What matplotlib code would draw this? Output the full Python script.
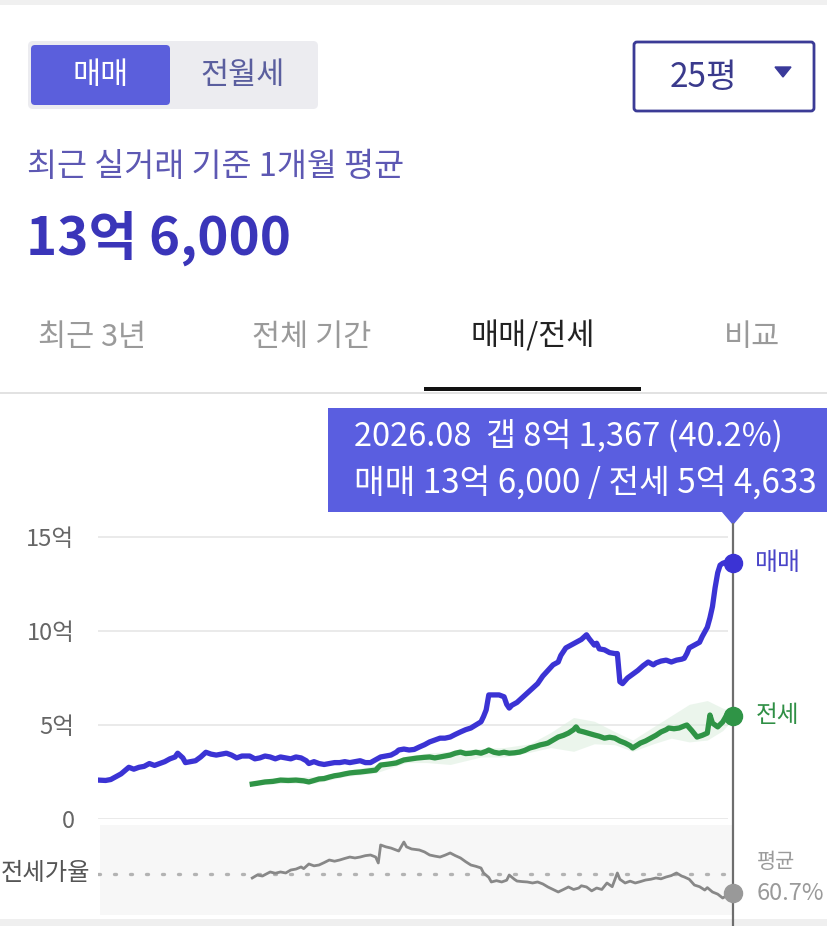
import matplotlib
matplotlib.use("Agg")
import matplotlib.pyplot as plt
from matplotlib.patches import FancyBboxPatch, Rectangle, Polygon
import pandas as pd

plt.rcParams['font.family'] = ['Noto Sans CJK KR', 'DejaVu Sans']

# 매매 price (억)
sale_dates = ['2006-01', '2006-04', '2006-06', '2006-08', '2006-10', '2007-01', '2007-03', '2007-05',
              '2007-07', '2007-09', '2007-11', '2008-01', '2008-03', '2008-05', '2008-07', '2008-08',
              '2008-10', '2008-11', '2009-01', '2009-03', '2009-05', '2009-07', '2009-09', '2009-11',
              '2010-01', '2010-03', '2010-05', '2010-07', '2010-09', '2010-12', '2011-02', '2011-04',
              '2011-06', '2011-08', '2011-10', '2011-12', '2012-02', '2012-04', '2012-06', '2012-08',
              '2012-10', '2012-11', '2013-01', '2013-03', '2013-05', '2013-07', '2013-09', '2013-11',
              '2014-01', '2014-03', '2014-05', '2014-07', '2014-09', '2014-11', '2015-01', '2015-03',
              '2015-05', '2015-07', '2015-09', '2015-10', '2015-12', '2016-02', '2016-04', '2016-06',
              '2016-08', '2016-10', '2016-12', '2017-02', '2017-04', '2017-06', '2017-08', '2017-10',
              '2017-12', '2018-02', '2018-04', '2018-06', '2018-07', '2018-08', '2018-09', '2018-11',
              '2019-01', '2019-03', '2019-04', '2019-05', '2019-06', '2019-08', '2019-10', '2019-12',
              '2020-02', '2020-04', '2020-06', '2020-08', '2020-10', '2020-12', '2021-01', '2021-03',
              '2021-05', '2021-07', '2021-09', '2021-11', '2021-12', '2022-02', '2022-03', '2022-04',
              '2022-06', '2022-08', '2022-10', '2022-11', '2022-12', '2023-01', '2023-03', '2023-05',
              '2023-07', '2023-09', '2023-11', '2024-01', '2024-02', '2024-04', '2024-06', '2024-08',
              '2024-10', '2024-12', '2025-01', '2025-02', '2025-03', '2025-05', '2025-07', '2025-08',
              '2025-10', '2025-11', '2025-12', '2026-01', '2026-02', '2026-03', '2026-04', '2026-06',
              '2026-08']
sale_vals = [2.07, 2.05, 2.10, 2.25, 2.40, 2.75, 2.65, 2.75,
             2.80, 2.95, 2.85, 2.95, 3.05, 3.20, 3.30, 3.50,
             3.25, 3.00, 3.05, 3.10, 3.30, 3.55, 3.45, 3.40,
             3.45, 3.50, 3.40, 3.25, 3.35, 3.35, 3.20, 3.25,
             3.35, 3.30, 3.20, 3.30, 3.25, 3.20, 3.30, 3.25,
             3.10, 2.95, 3.05, 2.95, 2.90, 2.95, 3.00, 3.00,
             3.05, 3.00, 3.05, 3.10, 3.00, 3.00, 3.15, 3.30,
             3.35, 3.40, 3.55, 3.67, 3.72, 3.67, 3.70, 3.83,
             3.95, 4.10, 4.20, 4.30, 4.30, 4.36, 4.50, 4.63,
             4.75, 4.84, 5.00, 5.17, 5.45, 5.80, 6.60, 6.60,
             6.60, 6.50, 6.10, 5.90, 6.05, 6.20, 6.45, 6.70,
             6.95, 7.20, 7.60, 7.90, 8.20, 8.35, 8.70, 9.10,
             9.25, 9.40, 9.55, 9.80, 9.60, 9.25, 9.35, 9.05,
             9.00, 8.85, 8.80, 8.80, 7.30, 7.20, 7.50, 7.70,
             7.90, 8.15, 8.35, 8.20, 8.30, 8.40, 8.45, 8.35,
             8.45, 8.50, 8.55, 8.80, 9.10, 9.25, 9.40, 9.70,
             10.20, 10.70, 11.30, 12.30, 13.10, 13.50, 13.60, 13.70,
             13.60]

# 전세 price (억)
rent_dates = ['2011-01', '2011-03', '2011-06', '2011-09', '2011-12', '2012-03', '2012-06', '2012-09',
              '2012-11', '2013-01', '2013-03', '2013-05', '2013-07', '2013-09', '2013-11', '2014-01',
              '2014-03', '2014-05', '2014-07', '2014-10', '2015-01', '2015-02', '2015-03', '2015-06',
              '2015-09', '2015-12', '2016-03', '2016-05', '2016-08', '2016-10', '2016-12', '2017-02',
              '2017-04', '2017-06', '2017-08', '2017-10', '2017-12', '2018-02', '2018-04', '2018-06',
              '2018-08', '2018-09', '2018-11', '2019-01', '2019-03', '2019-05', '2019-07', '2019-09',
              '2019-11', '2020-01', '2020-03', '2020-05', '2020-07', '2020-08', '2020-10', '2020-12',
              '2021-02', '2021-04', '2021-06', '2021-07', '2021-08', '2021-10', '2021-12', '2022-02',
              '2022-04', '2022-06', '2022-08', '2022-10', '2022-12', '2023-02', '2023-04', '2023-05',
              '2023-07', '2023-08', '2023-10', '2023-12', '2024-02', '2024-04', '2024-06', '2024-07',
              '2024-09', '2024-11', '2025-01', '2025-02', '2025-04', '2025-06', '2025-08', '2025-10',
              '2025-11', '2025-12', '2026-02', '2026-04', '2026-06', '2026-08']
rent_vals = [1.86, 1.90, 1.97, 2.00, 2.07, 2.05, 2.07, 2.03,
             1.97, 2.05, 2.13, 2.15, 2.23, 2.30, 2.34, 2.40,
             2.45, 2.48, 2.50, 2.55, 2.60, 2.75, 2.87, 2.92,
             2.98, 3.14, 3.20, 3.24, 3.28, 3.30, 3.25, 3.30,
             3.35, 3.40, 3.50, 3.56, 3.48, 3.50, 3.55, 3.50,
             3.60, 3.67, 3.55, 3.50, 3.55, 3.50, 3.52, 3.56,
             3.65, 3.78, 3.85, 3.94, 4.00, 4.04, 4.20, 4.36,
             4.45, 4.57, 4.75, 4.90, 4.70, 4.63, 4.55, 4.47,
             4.40, 4.30, 4.35, 4.30, 4.15, 4.04, 3.90, 3.78,
             3.95, 4.04, 4.15, 4.30, 4.45, 4.63, 4.75, 4.84,
             4.80, 4.84, 4.95, 5.00, 4.70, 4.36, 4.45, 4.57,
             5.53, 5.10, 4.90, 5.16, 5.63, 5.46]

# 전세 trade range (faint band)
band_dates = ['2011-01', '2012-01', '2013-01', '2014-01', '2015-01', '2016-01', '2016-09', '2017-06',
              '2018-06', '2019-03', '2020-01', '2020-09', '2021-06', '2022-02', '2022-10', '2023-05',
              '2024-01', '2024-08', '2025-03', '2025-10', '2026-04', '2026-08']
band_lo = [1.80, 1.90, 1.90, 2.25, 2.45, 3.00, 3.00, 2.90, 3.30, 3.30, 3.55, 3.80, 3.60, 4.00, 3.95,
           3.60, 4.00, 4.30, 4.10, 4.20, 4.70, 5.30]
band_hi = [2.05, 2.25, 2.25, 2.55, 2.85, 3.35, 3.50, 3.60, 3.75, 3.80, 4.00, 4.60, 5.40, 5.20, 4.65,
           4.20, 4.90, 5.50, 6.10, 6.30, 5.90, 5.70]

# 전세가율 (%)
ratio_dates = ['2011-01', '2011-03', '2011-05', '2011-08', '2011-10', '2011-12', '2012-02', '2012-04',
               '2012-06', '2012-08', '2012-09', '2012-11', '2013-01', '2013-03', '2013-05', '2013-07',
               '2013-09', '2013-11', '2014-01', '2014-03', '2014-05', '2014-07', '2014-09', '2014-11',
               '2015-01', '2015-02', '2015-03', '2015-05', '2015-07', '2015-10', '2015-12', '2016-01',
               '2016-03', '2016-06', '2016-08', '2016-10', '2016-12', '2017-02', '2017-04', '2017-06',
               '2017-08', '2017-10', '2017-12', '2018-02', '2018-04', '2018-06', '2018-07', '2018-09',
               '2018-10', '2018-12', '2019-02', '2019-04', '2019-05', '2019-07', '2019-08', '2019-10',
               '2019-12', '2020-02', '2020-04', '2020-06', '2020-08', '2020-10', '2020-12', '2021-02',
               '2021-04', '2021-06', '2021-08', '2021-09', '2021-11', '2022-01', '2022-03', '2022-05',
               '2022-07', '2022-09', '2022-11', '2022-12', '2023-02', '2023-04', '2023-06', '2023-08',
               '2023-10', '2023-12', '2024-02', '2024-04', '2024-06', '2024-08', '2024-10', '2024-12',
               '2025-01', '2025-03', '2025-05', '2025-07', '2025-09', '2025-10', '2025-12', '2026-02',
               '2026-04', '2026-06', '2026-08']
ratio_vals = [56.4, 59.6, 58.5, 62.9, 61.5, 62.9, 61.8, 65.0,
              66.0, 68.3, 66.5, 71.5, 69.5, 70.4, 73.0, 75.8,
              74.5, 75.8, 77.5, 79.0, 78.0, 79.0, 80.5, 81.2,
              79.0, 72.6, 92.0, 90.0, 88.7, 85.5, 95.2, 90.0,
              87.7, 86.6, 84.5, 81.2, 80.0, 79.0, 81.0, 83.4,
              80.5, 78.0, 74.0, 70.4, 69.0, 67.2, 61.8, 57.0,
              52.1, 53.5, 52.1, 54.0, 59.6, 55.0, 53.1, 52.5,
              52.1, 51.0, 52.1, 50.0, 46.7, 44.0, 41.3, 44.0,
              46.7, 44.0, 45.6, 48.0, 46.7, 42.5, 45.6, 44.0,
              51.0, 47.0, 61.8, 55.0, 51.0, 53.0, 51.0, 52.5,
              54.2, 55.0, 56.4, 55.5, 57.5, 59.0, 61.8, 58.5,
              57.5, 55.0, 48.8, 47.0, 43.4, 46.0, 41.3, 39.0,
              34.8, 38.0, 40.2]
ratio_avg = 60.7

ytick_vals = [0, 5, 10, 15]
ytick_labels = ['0', '5억', '10억', '15억']

BLUE = '#3b33d4'
GREEN = '#2f9446'
TIP = '#5a5ee0'

W, H = 827, 926
fig = plt.figure(figsize=(W / 100, H / 100), dpi=100)

# overlay in pixel coordinates (backgrounds, texts)
bg = fig.add_axes([0, 0, 1, 1], zorder=0)
bg.set_xlim(0, W)
bg.set_ylim(H, 0)
bg.axis('off')

bg.add_patch(Rectangle((0, 0), W, 5, color='#f0f0f0', lw=0))
bg.add_patch(Rectangle((0, 919), W, 7, color='#efefef', lw=0))

# segmented control
bg.add_patch(FancyBboxPatch((28, 41), 290, 68, boxstyle='round,pad=0,rounding_size=5',
                            fc='#ececf0', ec='none'))
bg.add_patch(FancyBboxPatch((31, 45), 139, 60, boxstyle='round,pad=0,rounding_size=4',
                            fc='#5b5fdc', ec='none'))
bg.text(101, 75, '매매', color='white', fontsize=22, ha='center', va='center')
bg.text(243, 75, '전월세', color='#5a5e9e', fontsize=22, ha='center', va='center')

# dropdown
bg.add_patch(FancyBboxPatch((634, 42), 180, 69, boxstyle='round,pad=0,rounding_size=3',
                            fc='white', ec='#3b3b96', lw=2))
bg.text(703, 77, '25평', color='#3a3a8c', fontsize=24, ha='center', va='center')
bg.add_patch(Polygon([(775, 67), (791, 67), (783, 77)], closed=True, color='#3a3a9a'))

bg.text(27, 167, '최근 실거래 기준 1개월 평균', color='#5d58b3', fontsize=23.5, ha='left', va='center')
bg.text(26, 238, '13억 6,000', color='#3a35b9', fontsize=38, fontweight='bold', ha='left', va='center')

# tabs
tabs = [('최근 3년', 92, '#9a9a9a'), ('전체 기간', 312, '#9a9a9a'),
        ('매매/전세', 533, '#222222'), ('비교', 752, '#9a9a9a')]
for label, cx, col in tabs:
    bg.text(cx, 337, label, color=col, fontsize=22, ha='center', va='center')
bg.add_patch(Rectangle((0, 392), W, 2, color='#e2e2e2', lw=0))
bg.add_patch(Rectangle((424, 387), 217, 4, color='#111111', lw=0))

# tooltip
bg.add_patch(Rectangle((328, 408), W - 328, 104, color=TIP, lw=0))
bg.add_patch(Polygon([(722, 511), (744, 511), (733, 524)], closed=True, color=TIP))
bg.text(354, 436, '2026.08  갭 8억 1,367 (40.2%)', color='white', fontsize=23.5, ha='left', va='center')
bg.text(354, 484, '매매 13억 6,000 / 전세 5억 4,633', color='white', fontsize=24, ha='left', va='center')

# ratio panel background and cursor line
bg.add_patch(Rectangle((100, 825), 633, 90, color='#f7f7f7', lw=0))
bg.plot([733, 733], [524, 926], color='#6e6e6e', lw=1.6)
bg.text(90, 873, '전세가율', color='#555555', fontsize=17.5, ha='right', va='center')

bg.text(755, 563, '매매', color='#4a45c8', fontsize=18, ha='left', va='center')
bg.text(756, 716, '전세', color='#2f8f45', fontsize=17, ha='left', va='center')
bg.text(757, 862, '평균', color='#9a9a9a', fontsize=15, ha='left', va='center')
bg.text(757, 893, '60.7%', color='#9a9a9a', fontsize=17, ha='left', va='center')

x0 = pd.Timestamp('2006-01-01')
x1 = pd.Timestamp('2026-08-01')

# price chart
left = 98 / W
width = (733 - 98) / W
top_px, bot_px = 520, 819
ax = fig.add_axes([left, (H - bot_px) / H, width, (bot_px - top_px) / H], zorder=1)
ax.patch.set_alpha(0)
ax.set_xlim(x0, x1)
ax.set_ylim(0, (bot_px - top_px) / 94 * 5)
for s in ax.spines.values():
    s.set_visible(False)
ax.set_xticks([])
ax.set_yticks(ytick_vals)
ax.set_yticklabels(ytick_labels)
ax.tick_params(axis='y', length=0, pad=17, labelsize=17, labelcolor='#666666')
ax.hlines(ytick_vals, x0, pd.Timestamp('2026-06-01'), color='#e6e6e6', lw=1.2, zorder=0)

sd = pd.to_datetime(sale_dates)
rd = pd.to_datetime(rent_dates)
bd = pd.to_datetime(band_dates)
ax.fill_between(bd, band_lo, band_hi, color='#d8ecdb', alpha=0.5, lw=0, zorder=1)
ax.plot(sd, sale_vals, color=BLUE, lw=3.8, solid_joinstyle='round', zorder=3)
ax.plot(rd, rent_vals, color=GREEN, lw=3.8, solid_joinstyle='round', zorder=2)
ax.plot(sd[-1], sale_vals[-1], 'o', ms=13, color=BLUE, clip_on=False, zorder=4)
ax.plot(rd[-1], rent_vals[-1], 'o', ms=13, color=GREEN, clip_on=False, zorder=4)

# ratio chart
rax = fig.add_axes([left, (H - 915) / H, width, 90 / H], zorder=1)
rax.patch.set_alpha(0)
rax.set_xlim(x0, x1)
rax.set_ylim(ratio_avg - 41 / 0.927, ratio_avg + 49 / 0.927)
rax.axis('off')
rax.axhline(ratio_avg, color='#b3b3b3', lw=2.4, linestyle=(0, (0.6, 4.2)), dash_capstyle='round')
qd = pd.to_datetime(ratio_dates)
rax.plot(qd, ratio_vals, color='#888888', lw=2.0, zorder=2)
rax.plot(qd[-1], ratio_vals[-1], 'o', ms=13, color='#999999', clip_on=False, zorder=3)

fig.savefig('out.png', dpi=100)
